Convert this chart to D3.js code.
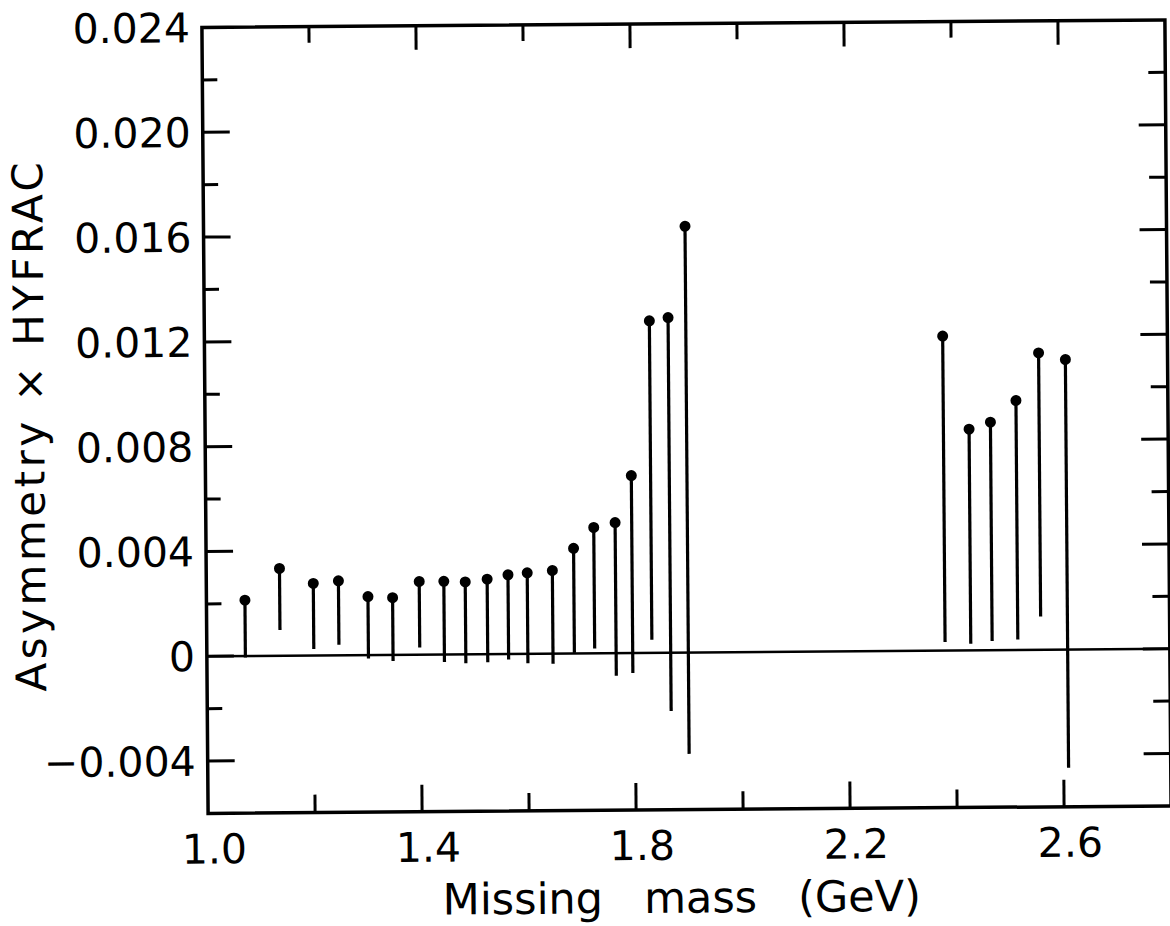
<!DOCTYPE html>
<html>
<head>
<meta charset="utf-8">
<script src="https://cdn.jsdelivr.net/npm/d3@7"></script>
<style>
  html, body { margin: 0; background: #fff; }
  svg { display: block; }
  text { font-family: "DejaVu Sans", sans-serif; fill: #000; }
</style>
</head>
<body>
<svg id="chart" width="1170" height="926"></svg>
<script>
// missing mass bins (GeV) and the top / bottom of each vertical bar
const massGeV = [1.072, 1.137, 1.200, 1.247, 1.302, 1.348, 1.398, 1.444, 1.484, 1.525,
                 1.564, 1.600, 1.647, 1.687, 1.725, 1.765, 1.796, 1.832, 1.867, 1.900,
                 2.380, 2.428, 2.468, 2.516, 2.559, 2.609];
const upperVal = [0.00213, 0.00333, 0.00275, 0.00284, 0.00223, 0.00218, 0.00279, 0.00279, 0.00276, 0.00286,
                  0.00302, 0.00309, 0.00317, 0.00401, 0.00480, 0.00498, 0.00677, 0.01267, 0.01279, 0.01627,
                  0.01200, 0.00844, 0.00870, 0.00952, 0.01133, 0.01107];
const lowerVal = [-0.00006, 0.00098, 0.00025, 0.00040, -0.00013, -0.00024, 0.00027, -0.00029, -0.00034, -0.00031,
                  -0.00021, -0.00036, -0.00039, 0.00002, 0.00018, -0.00087, -0.00077, 0.00050, -0.00223, -0.00387,
                  0.00032, 0.00025, 0.00035, 0.00040, 0.00127, -0.00451];

const xLabelValues = [1.0, 1.4, 1.8, 2.2, 2.6];
const xMajorTicks = [1.4, 1.8, 2.2, 2.6];
const xMinorTicks = [1.2, 1.6, 2.0, 2.4];
const yLabelValues = [-0.004, 0, 0.004, 0.008, 0.012, 0.016, 0.020, 0.024];
const yMajorTicks = [-0.004, 0, 0.004, 0.008, 0.012, 0.016, 0.020];
const yMinorTicks = [-0.002, 0.002, 0.006, 0.010, 0.014, 0.018, 0.022];

const svg = d3.select("#chart");
const plotLeft = 205, plotRight = 1168, plotTop = 23.7, plotBottom = 809.7;

const x = d3.scaleLinear().domain([1.0, 2.8]).range([plotLeft, plotRight]);
const y = d3.scaleLinear().domain([-0.006, 0.024]).range([plotBottom, plotTop]);

// the original scan sits slightly tilted
const g = svg.append("g").attr("transform", "rotate(-0.45 687 417)");

// zero line
g.append("line")
    .attr("x1", plotLeft).attr("x2", plotRight)
    .attr("y1", y(0)).attr("y2", y(0))
    .attr("stroke", "#000").attr("stroke-width", 2.5);

// ticks, inward on all four sides
const tick = (x1, y1, x2, y2) => g.append("line")
    .attr("x1", x1).attr("y1", y1).attr("x2", x2).attr("y2", y2)
    .attr("stroke", "#000").attr("stroke-width", 3);

xMajorTicks.forEach(v => { tick(x(v), plotBottom, x(v), plotBottom - 27); tick(x(v), plotTop, x(v), plotTop + 24); });
xMinorTicks.forEach(v => { tick(x(v), plotBottom, x(v), plotBottom - 18); tick(x(v), plotTop, x(v), plotTop + 16); });
yMajorTicks.forEach(v => { tick(plotLeft, y(v), plotLeft + 27, y(v)); tick(plotRight, y(v), plotRight - 27, y(v)); });
yMinorTicks.forEach(v => { tick(plotLeft, y(v), plotLeft + 15, y(v)); tick(plotRight, y(v), plotRight - 17, y(v)); });

// frame
g.append("rect")
    .attr("x", plotLeft).attr("y", plotTop)
    .attr("width", plotRight - plotLeft).attr("height", plotBottom - plotTop)
    .attr("fill", "none").attr("stroke", "#000").attr("stroke-width", 3.5);

// tick labels
g.selectAll(".xlab").data(xLabelValues).join("text")
    .attr("class", "xlab")
    .attr("x", d => x(d) + 6).attr("y", plotBottom + 50)
    .attr("text-anchor", "middle")
    .attr("font-size", 41)
    .text(d => d3.format(".1f")(d));

g.selectAll(".ylab").data(yLabelValues).join("text")
    .attr("class", "ylab")
    .attr("x", plotLeft - 12).attr("y", d => y(d))
    .attr("dy", "0.36em")
    .attr("text-anchor", "end")
    .attr("font-size", 41)
    .text(d => d === 0 ? "0" : d3.format(".3f")(d).replace("-", "\u2212"));

// axis titles
g.append("text")
    .attr("x", 678).attr("y", plotBottom + 103)
    .attr("text-anchor", "middle")
    .attr("font-size", 43)
    .attr("xml:space", "preserve")
    .style("white-space", "pre")
    .text("Missing   mass   (GeV)");

g.append("text")
    .attr("transform", "translate(44, 420) rotate(-90)")
    .attr("text-anchor", "middle")
    .attr("font-size", 42)
    .attr("letter-spacing", 3.5)
    .text("Asymmetry \u00d7 HYFRAC");

// bars with a dot on the top end
const bars = massGeV.map((m, i) => ({ m, hi: upperVal[i], lo: lowerVal[i] }));

g.selectAll(".bar").data(bars).join("line")
    .attr("class", "bar")
    .attr("x1", d => x(d.m)).attr("x2", d => x(d.m))
    .attr("y1", d => y(d.hi)).attr("y2", d => y(d.lo))
    .attr("stroke", "#000").attr("stroke-width", 3.2);

g.selectAll(".cap").data(bars).join("circle")
    .attr("class", "cap")
    .attr("cx", d => x(d.m)).attr("cy", d => y(d.hi))
    .attr("r", 5.5)
    .attr("fill", "#000");
</script>
</body>
</html>
